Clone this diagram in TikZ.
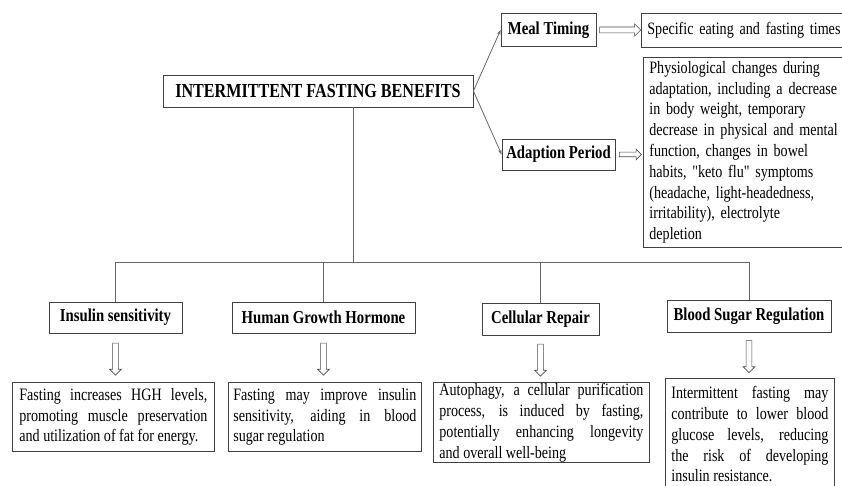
\documentclass[tikz,border=0pt]{standalone}
\usepackage{fontspec}
\setmainfont[FakeStretch=0.81, Ligatures=TeXOff]{Liberation Serif}
\usetikzlibrary{shapes.arrows,arrows.meta}

\begin{document}
\begin{tikzpicture}[x=1pt,y=-1pt,
  box/.style={draw=black!75, line width=0.8pt, inner sep=0pt,
    font=\fontsize{17.4}{20.8}\selectfont},
  headbox/.style={box, font=\bfseries\fontsize{18.2}{21}\selectfont,
    minimum height=32pt},
  textbox/.style={box, align=justify, inner xsep=6pt, inner ysep=1pt},
  link/.style={draw=black!60, line width=0.8pt},
  tip/.style={-{Stealth[length=5pt,width=3.5pt]}},
  hollow/.style={single arrow, draw=black!70, line width=0.6pt, fill=white,
    inner xsep=0pt, inner ysep=2.6pt, single arrow head extend=3pt,
    single arrow tip angle=90, sloped, allow upside down, anchor=center}
]
\useasboundingbox (0,0) rectangle (842,486);
\clip (0,0) rectangle (842,486);

% root and the two timing branches
\node[headbox, minimum width=310pt, font=\bfseries\fontsize{19.9}{23}\selectfont]
  (main) at (318,91) {INTERMITTENT FASTING BENEFITS};
\node[headbox, minimum width=95pt, minimum height=33pt] (meal) at (548.5,30) {Meal Timing};
\node[box, anchor=west, text width=240pt, align=left, inner xsep=6pt,
  minimum height=34pt] (spec) at (641,30) {Specific eating and fasting times};
\node[headbox, minimum width=113pt, minimum height=31pt] (adapt) at (558.5,154.5) {Adaption Period};
\node[box, anchor=north west, text width=230pt, align=left, inner xsep=6pt,
  minimum height=190pt] (phys) at (643,57)
  {Physiological changes during\\ adaptation, including a decrease\\
   in body weight, temporary\\ decrease in physical and mental\\
   function, changes in bowel\\ habits, "keto flu" symptoms\\
   (headache, light-headedness,\\ irritability), electrolyte\\ depletion};

% benefit headings
\node[headbox, minimum width=133pt, minimum height=31pt] (ins) at (115.5,317.5) {Insulin sensitivity};
\node[headbox, minimum width=183pt, minimum height=31pt] (hgh) at (323.5,317.5) {Human Growth Hormone};
\node[headbox, minimum width=117pt, minimum height=32pt] (cell) at (540.5,319) {Cellular Repair};
\node[headbox, minimum width=164pt, minimum height=32pt] (blood) at (749,316) {Blood Sugar Regulation};

% benefit descriptions
\node[textbox, anchor=north west, text width=188pt, inner xsep=7pt, minimum height=69pt]
  (insd) at (12,382) {Fasting increases HGH levels,\linebreak promoting muscle preservation\linebreak and utilization of fat for energy.};
\node[textbox, anchor=north west, text width=183pt, inner xsep=5pt, minimum height=69pt]
  (hghd) at (228,382) {Fasting may improve insulin\linebreak sensitivity, aiding in blood\linebreak sugar regulation};
\node[textbox, anchor=north west, text width=204pt, minimum height=78pt]
  (celld) at (433,382) {Autophagy, a cellular purification\linebreak process, is induced by fasting,\linebreak potentially enhancing longevity\linebreak and overall well-being};
\node[textbox, anchor=north west, text width=157pt, inner ysep=8pt]
  (bloodd) at (665,378) {Intermittent fasting may\linebreak contribute to lower blood\linebreak glucose levels, reducing\linebreak the risk of developing\linebreak insulin resistance.};

% tree connectors
\coordinate (bus) at (353,262);
\draw[link] (main.south -| bus) -- (bus);
\draw[link] (ins.north |- bus) -- (blood.north |- bus);
\foreach \n in {ins,hgh,cell,blood}
  \draw[link] (\n.north |- bus) -- (\n.north);
\draw[link, tip] (main.east) -- (meal.west);
\draw[link, tip] (main.east) -- (adapt.west);

% hollow block arrows
\path (meal.east) -- node[hollow, minimum height=41pt, minimum width=12pt] {} (spec.west);
\path (adapt.east) -- node[hollow, minimum height=22pt, minimum width=10pt, inner ysep=2pt] {} (adapt.east -| phys.west);
\foreach \n in {ins,hgh,cell,blood}
  \path (\n.south) -- node[hollow, minimum height=32pt, minimum width=11pt] {} (\n.south |- \n d.north);
\end{tikzpicture}
\end{document}
